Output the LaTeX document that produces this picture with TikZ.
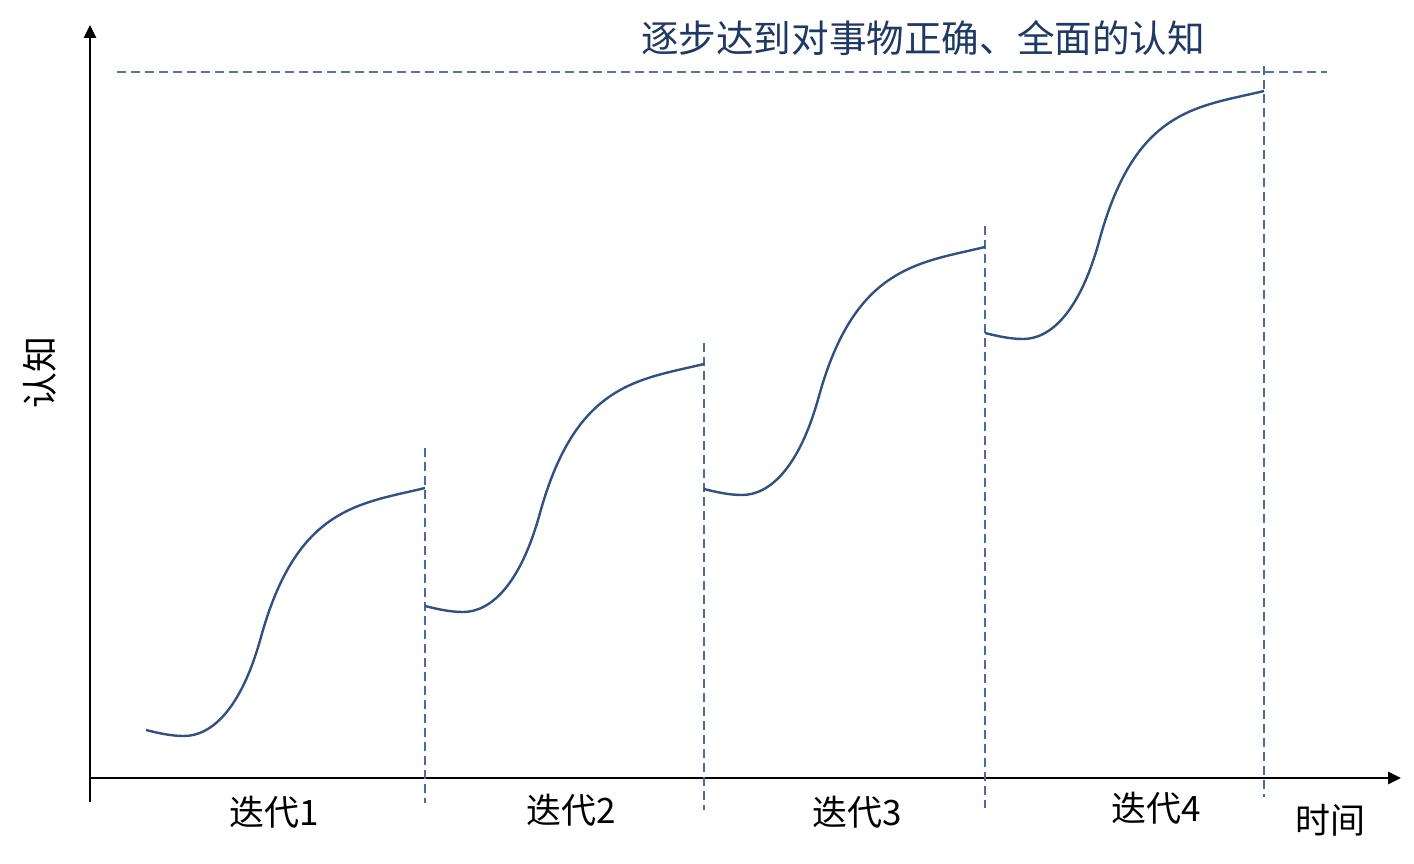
\documentclass[tikz,border=0pt]{standalone}
\usepackage{fontspec}
\setmainfont{Noto Sans CJK SC}
\usepackage{tikz}
\usetikzlibrary{arrows.meta}

\begin{document}
\begin{tikzpicture}[x=1pt,y=1pt,yscale=-1,xscale=1]
\useasboundingbox (0,0) rectangle (1414,864);

%Axis: vertical
\draw [color={rgb, 255:red, 0; green, 0; blue, 0 }  ,draw opacity=1 ][line width=2.8pt][-{Triangle[length=13pt,width=12pt]}]   (90,802) -- (90,25) ;
%Axis: horizontal
\draw [color={rgb, 255:red, 0; green, 0; blue, 0 }  ,draw opacity=1 ][line width=2.8pt][-{Triangle[length=13pt,width=12pt]}]   (90,778) -- (1401,778) ;

%Straight Lines: target level
\draw [color={rgb, 255:red, 88; green, 120; blue, 150 }  ,draw opacity=1 ][line width=1.4pt] [dash pattern={on 9pt off 5pt}]  (117,72) -- (1327,72) ;
%Straight Lines: iteration borders
\draw [color={rgb, 255:red, 72; green, 108; blue, 158 }  ,draw opacity=1 ][line width=2.4pt] [dash pattern={on 9pt off 5pt}]  (425,448) -- (425,803) ;
\draw [color={rgb, 255:red, 72; green, 108; blue, 158 }  ,draw opacity=1 ][line width=2.4pt] [dash pattern={on 9pt off 5pt}]  (704,343) -- (704,810) ;
\draw [color={rgb, 255:red, 72; green, 108; blue, 158 }  ,draw opacity=1 ][line width=2.4pt] [dash pattern={on 9pt off 5pt}]  (985,226) -- (985,808) ;
\draw [color={rgb, 255:red, 72; green, 108; blue, 158 }  ,draw opacity=1 ][line width=2.4pt] [dash pattern={on 9pt off 5pt}]  (1264,66) -- (1264,797) ;

%Curve: iteration 1
\draw [color={rgb, 255:red, 50; green, 80; blue, 132 }  ,draw opacity=1 ][line width=2.4pt]   (146,730) .. controls (158,733) and (171,736) .. (184,736) .. controls (211,736) and (241,710) .. (261,637) .. controls (297,507) and (359,504) .. (425,488) ;
%Curve: iteration 2
\draw [color={rgb, 255:red, 50; green, 80; blue, 132 }  ,draw opacity=1 ][line width=2.4pt]   (425,606) .. controls (437,609) and (450,612) .. (463,612) .. controls (490,612) and (520,586) .. (540,513) .. controls (576,383) and (638,380) .. (704,364) ;
%Curve: iteration 3
\draw [color={rgb, 255:red, 50; green, 80; blue, 132 }  ,draw opacity=1 ][line width=2.4pt]   (704,489) .. controls (716,492) and (729,495) .. (742,495) .. controls (769,495) and (799,469) .. (819,396) .. controls (855,266) and (919,263) .. (985,247) ;
%Curve: iteration 4
\draw [color={rgb, 255:red, 50; green, 80; blue, 132 }  ,draw opacity=1 ][line width=2.4pt]   (985,333) .. controls (997,336) and (1010,339) .. (1023,339) .. controls (1050,339) and (1080,313) .. (1100,238) .. controls (1136,108) and (1198,107) .. (1264,91) ;

% Text Node
\draw (923,38) node (title) [inner sep=0pt,color={rgb, 255:red, 31; green, 56; blue, 100 }] {\fontsize{37.6}{44}\selectfont 逐步达到对事物正确、全面的认知};
% Text Node
\draw (40,372) node (ylabel) [inner sep=0pt,rotate=90] {\fontsize{36}{42}\selectfont 认知};
% Text Node
\draw (1330,820) node (xlabel) [inner sep=0pt] {\fontsize{35}{42}\selectfont 时间};
% Text Node
\draw (274,812) node (iter1) [inner sep=0pt] {\fontsize{35}{42}\selectfont 迭代1};
% Text Node
\draw (571,810) node (iter2) [inner sep=0pt] {\fontsize{35}{42}\selectfont 迭代2};
% Text Node
\draw (857,812) node (iter3) [inner sep=0pt] {\fontsize{35}{42}\selectfont 迭代3};
% Text Node
\draw (1156,808) node (iter4) [inner sep=0pt] {\fontsize{35}{42}\selectfont 迭代4};
\end{tikzpicture}
\end{document}
